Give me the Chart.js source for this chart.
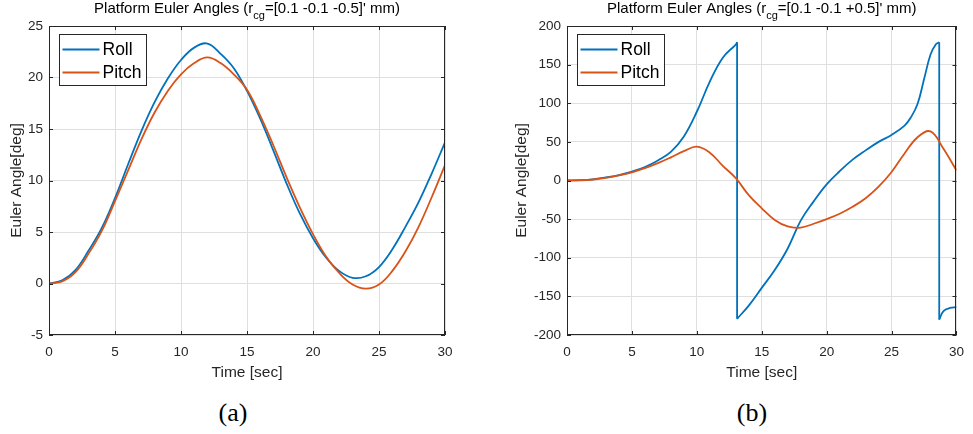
<!DOCTYPE html>
<html>
<head>
<meta charset="utf-8">
<script src="https://cdn.jsdelivr.net/npm/chart.js@4.4.1/dist/chart.umd.min.js"></script>
<style>
  body { margin: 0; background: #fff; width: 973px; height: 434px; overflow: hidden; position: relative; }
  canvas { position: absolute; top: 0; }
  #chartA { left: 0; }
  #chartB { left: 486px; }
  .cap { position: absolute; top: 398px; width: 60px; text-align: center; line-height: 30px;
         font-family: "Liberation Serif", "DejaVu Serif", serif; font-size: 26px; color: #000; }
</style>
</head>
<body>
<canvas id="chartA" width="486" height="390"></canvas>
<canvas id="chartB" width="487" height="390"></canvas>
<div class="cap" style="left:203px">(a)</div>
<div class="cap" style="left:722px">(b)</div>
<script>
// (a) r_cg = [0.1 -0.1 -0.5]'
const timeA  = [0, 1, 2, 3, 4, 5, 6, 7, 8, 9, 10, 11, 12, 13, 14, 15, 16, 17, 18, 19, 20, 21, 22, 23, 24, 25, 26, 27, 28, 29, 30];
const rollA  = [0, 0.3, 1.3, 3.2, 5.4, 8.3, 11.6, 14.8, 17.6, 19.9, 21.7, 22.9, 23.3, 22.3, 20.9, 18.7, 16.0, 12.9, 9.7, 6.8, 4.4, 2.5, 1.2, 0.55, 0.7, 1.6, 3.3, 5.5, 7.9, 10.7, 13.7];
const pitchA = [0, 0.2, 1.1, 2.9, 5.1, 8.0, 11.0, 14.0, 16.6, 18.7, 20.3, 21.4, 21.95, 21.4, 20.3, 18.8, 16.3, 13.4, 10.3, 7.4, 4.8, 2.6, 1.0, -0.1, -0.5, -0.1, 1.2, 3.1, 5.5, 8.4, 11.5];

// (b) r_cg = [0.1 -0.1 +0.5]'  -- roll wraps at +/-180, so it comes in three pieces
const timeRollB1 = [0, 1, 2, 3, 4, 5, 6, 7, 8, 9, 10, 11, 12, 13, 13.1];
const rollB1     = [0, 0.4, 1.5, 4, 7, 11.5, 17.5, 26, 37, 57, 89, 128, 159, 176, 179];
const timeRollB2 = [13.1, 14, 15, 16, 17, 18, 19, 20, 21, 22, 23, 24, 25, 26, 26.5, 27, 27.5, 28, 28.4, 28.67];
const rollB2     = [-179, -162, -139, -116, -88, -52, -27, -5, 12, 27, 39, 50, 59, 71, 82, 99, 131, 163, 176, 179];
const timeRollB3 = [28.67, 29, 29.5, 30];
const rollB3     = [-180, -169, -165, -164];
const timePitchB = [0, 1, 2, 3, 4, 5, 6, 7, 8, 9, 10, 11, 12, 13, 14, 15, 16, 17, 18, 19, 20, 21, 22, 23, 24, 25, 26, 27, 28, 29, 30];
const pitchB     = [0, 0.3, 1.3, 3.5, 6.5, 10.5, 16, 22.5, 30, 38, 43.8, 36, 19, 3, -19, -36, -51, -59.5, -61, -56, -50, -43, -34, -23, -8, 11, 35, 56, 63.5, 41, 13];

const xTicks = [0, 30, 5];        // min, max, step
const yTicksA = [-5, 25, 5];
const yTicksB = [-200, 200, 50];
const seriesNames = ['Roll', 'Pitch'];
const seriesColors = ['#0072BD', '#D95319'];

const FONT = '"Liberation Sans", Arial, sans-serif';
const toPoints = (xs, ys) => xs.map((x, i) => ({ x: x, y: ys[i] }));

// box, inward ticks, legend and title drawn the way matlab does it
const matlabAxes = {
  id: 'matlabAxes',
  afterDraw(chart, args, opts) {
    const ctx = chart.ctx;
    const a = chart.chartArea;
    const sx = chart.scales.x, sy = chart.scales.y;
    ctx.save();
    ctx.strokeStyle = '#262626';
    ctx.lineWidth = 1;
    ctx.strokeRect(Math.round(a.left) + 0.5, Math.round(a.top) + 0.5,
                   Math.round(a.right - a.left) - 1, Math.round(a.bottom - a.top) - 1);
    ctx.beginPath();
    sx.ticks.forEach(t => {
      const px = Math.round(sx.getPixelForValue(t.value)) + 0.5;
      ctx.moveTo(px, a.bottom); ctx.lineTo(px, a.bottom - 4);
      ctx.moveTo(px, a.top); ctx.lineTo(px, a.top + 4);
    });
    sy.ticks.forEach(t => {
      const py = Math.round(sy.getPixelForValue(t.value)) + 0.5;
      ctx.moveTo(a.left, py); ctx.lineTo(a.left + 4, py);
      ctx.moveTo(a.right, py); ctx.lineTo(a.right - 4, py);
    });
    ctx.stroke();

    // legend
    const lx = Math.round(a.left) + 10.5, ly = Math.round(a.top) + 8.5;
    ctx.fillStyle = '#fff';
    ctx.fillRect(lx, ly, 87, 51);
    ctx.strokeRect(lx, ly, 87, 51);
    ctx.font = '17.5px ' + FONT;
    ctx.textBaseline = 'middle';
    ctx.textAlign = 'left';
    seriesNames.forEach((name, i) => {
      const y = ly + 15 + i * 23;
      ctx.strokeStyle = seriesColors[i];
      ctx.lineWidth = 2;
      ctx.beginPath();
      ctx.moveTo(lx + 3, y); ctx.lineTo(lx + 40, y);
      ctx.stroke();
      ctx.fillStyle = '#000';
      ctx.fillText(name, lx + 43, y + 1);
    });

    // title with subscript
    const parts = opts.title;
    const big = '15px ' + FONT;
    const small = '11px ' + FONT;
    ctx.font = big; const w1 = ctx.measureText(parts[0]).width;
    ctx.font = small; const w2 = ctx.measureText(parts[1]).width;
    ctx.font = big; const w3 = ctx.measureText(parts[2]).width;
    let x = (a.left + a.right) / 2 - (w1 + w2 + w3) / 2;
    ctx.fillStyle = '#000';
    ctx.textBaseline = 'alphabetic';
    ctx.font = big; ctx.fillText(parts[0], x, 12.5); x += w1;
    ctx.font = small; ctx.fillText(parts[1], x, 19); x += w2;
    ctx.font = big; ctx.fillText(parts[2], x, 12.5);
    ctx.restore();
  }
};

function lineSet(pts, color, tension, order) {
  return { data: pts, borderColor: color, backgroundColor: color, borderWidth: 1.8,
           pointRadius: 0, tension: tension, fill: false, order: order };
}

// rollPieces: list of continuous pieces; wrap-around jumps are joined with straight lines
function makeChart(id, rollPieces, pitch, yTicks, title, plotLeft, plotRight, yTitlePad) {
  const canvas = document.getElementById(id);
  const tickFont = { family: FONT, size: 13.5 };
  const labelFont = { family: FONT, size: 15.5 };
  const datasets = [lineSet(pitch, seriesColors[1], 0.4, 0)];
  rollPieces.forEach((pts, k) => {
    datasets.push(lineSet(pts, seriesColors[0], 0.4, 1));
    if (k > 0) {
      const prev = rollPieces[k - 1];
      datasets.push(lineSet([prev[prev.length - 1], pts[0]], seriesColors[0], 0, 1));
    }
  });
  return new Chart(canvas, {
    type: 'line',
    data: { datasets: datasets },
    options: {
      responsive: false,
      animation: false,
      events: [],
      layout: { padding: { top: 26, right: canvas.width - plotRight, left: 0, bottom: 0 } },
      plugins: {
        legend: { display: false },
        title: { display: false },
        tooltip: { enabled: false },
        matlabAxes: { title: title }
      },
      scales: {
        x: {
          type: 'linear',
          min: xTicks[0], max: xTicks[1],
          ticks: { stepSize: xTicks[2], color: '#262626', font: tickFont, padding: 9, maxRotation: 0 },
          grid: { color: '#dfdfdf', drawTicks: false },
          border: { display: false },
          title: { display: true, text: 'Time [sec]', color: '#262626', font: labelFont, padding: { top: 0, bottom: 7.7 } },
          afterFit: s => { s.height = canvas.height - 335; }
        },
        y: {
          min: yTicks[0], max: yTicks[1],
          ticks: { stepSize: yTicks[2], color: '#262626', font: tickFont, padding: 6 },
          grid: { color: '#dfdfdf', drawTicks: false },
          border: { display: false },
          title: { display: true, text: 'Euler Angle[deg]', color: '#262626', font: labelFont, padding: { top: yTitlePad, bottom: 0 } },
          afterFit: s => { s.width = plotLeft; }
        }
      }
    },
    plugins: [matlabAxes]
  });
}

makeChart('chartA', [toPoints(timeA, rollA)], toPoints(timeA, pitchA), yTicksA,
  ['Platform Euler Angles (r', 'cg', "=[0.1 -0.1 -0.5]' mm)"], 49, 445, 7.2);
makeChart('chartB',
  [toPoints(timeRollB1, rollB1), toPoints(timeRollB2, rollB2), toPoints(timeRollB3, rollB3)],
  toPoints(timePitchB, pitchB), yTicksB,
  ['Platform Euler Angles (r', 'cg', "=[0.1 -0.1 +0.5]' mm)"], 81, 478, 26.2);
</script>
</body>
</html>
